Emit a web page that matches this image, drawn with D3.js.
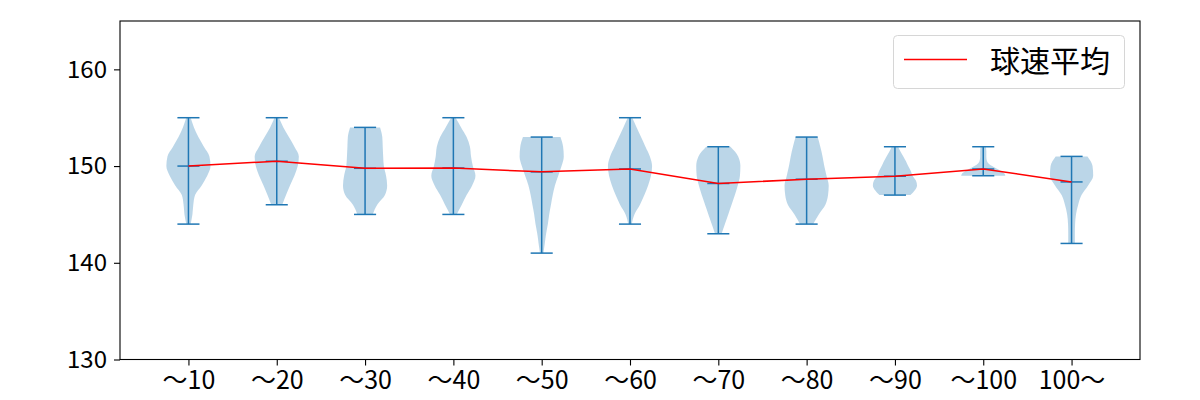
<!DOCTYPE html>
<html><head><meta charset="utf-8">
<script src="https://cdn.jsdelivr.net/npm/d3@7"></script>
<style>body{margin:0;background:#fff}</style>
</head><body>
<svg id="chart" width="1200" height="400"></svg>
<script>
// ---- data ----
const categories = ["～10","～20","～30","～40","～50","～60","～70","～80","～90","～100","100～"];
const means = [150.0, 150.5, 149.77, 149.8, 149.4, 149.7, 148.2, 148.64, 148.95, 149.7, 148.36];
const mins  = [144, 146, 145, 145, 141, 144, 143, 144, 147, 149, 142];
const maxs  = [155, 155, 154, 155, 153, 155, 152, 153, 152, 152, 151];
const yTicks = [130, 140, 150, 160];
const legendLabel = "球速平均";
// density profiles: speeds and relative half-widths (1 = widest point)
const profileSpeeds = [
  [144,145,146,147,148,149,150,151,152,153,154,155],
  [146,147,148,149,150,151,152,153,154,155],
  [145,146,147,148,149,150,151,152,153,154],
  [145,146,147,148,149,150,151,152,153,154,155],
  [141,142,143,144,145,146,147,148,149,150,151,152,153],
  [144,145,146,147,148,149,150,151,152,153,154,155],
  [143,144,145,146,147,148,149,150,151,152],
  [144,145,146,147,148,149,150,151,152,153],
  [147,147.5,148,148.5,149,149.5,150,150.5,151,151.5,152],
  [149,149.25,149.5,149.75,150,150.25,150.5,151,151.5,152],
  [142,143,144,145,146,147,148,149,150,151]
];
const profileWidths = [
  [0.1,0.18,0.22,0.3,0.6,0.85,1.0,0.95,0.7,0.45,0.25,0.1],
  [0.25,0.42,0.6,0.8,0.95,1.0,0.8,0.55,0.3,0.1],
  [0.35,0.55,0.9,1.0,0.95,0.85,0.82,0.8,0.78,0.68],
  [0.15,0.38,0.6,0.85,1.0,0.88,0.8,0.75,0.6,0.35,0.1],
  [0.08,0.14,0.2,0.28,0.34,0.42,0.5,0.6,0.75,0.9,1.0,0.97,0.85],
  [0.08,0.2,0.45,0.65,0.82,0.95,1.0,0.9,0.7,0.5,0.3,0.1],
  [0.15,0.3,0.45,0.6,0.75,0.88,0.98,1.0,0.9,0.55],
  [0.3,0.55,0.85,0.97,1.0,0.9,0.8,0.72,0.62,0.5],
  [0.7,0.9,1.0,0.95,0.8,0.72,0.6,0.5,0.38,0.25,0.15],
  [1.0,0.95,0.8,0.6,0.4,0.25,0.17,0.14,0.14,0.12],
  [0.15,0.15,0.16,0.2,0.3,0.45,0.75,0.98,0.95,0.72]
];

// ---- layout ----
const L = 120, R = 1140, T = 21, B = 359.5;
const blue = "#1f77b4";
const svg = d3.select("#chart");
const positions = categories.map((c, i) => i + 1);
const x = d3.scaleLinear().domain([0.225, 11.775]).range([L, R]);
const y = d3.scaleLinear().domain([130, 165]).range([B, T]);
const halfW = x(0.25) - x(0);
const capW = x(0.125) - x(0);
const font = "'Noto Sans CJK JP', 'Noto Sans', sans-serif";

// violins
const g = svg.append("g");
categories.forEach((c, i) => {
  const cx = x(positions[i]);
  const pts = profileSpeeds[i].map((s, k) => [s, profileWidths[i][k]]);
  const area = d3.area()
    .y(d => y(d[0]))
    .x0(d => cx - halfW * d[1])
    .x1(d => cx + halfW * d[1])
    .curve(d3.curveMonotoneY);
  g.append("path").attr("d", area(pts))
    .attr("fill", blue).attr("fill-opacity", 0.3).attr("stroke", "none");
  g.append("line").attr("x1", cx).attr("x2", cx)
    .attr("y1", y(mins[i])).attr("y2", y(maxs[i]))
    .attr("stroke", blue).attr("stroke-width", 1.5);
  [mins[i], maxs[i], means[i]].forEach(v => {
    g.append("line").attr("x1", cx - capW).attr("x2", cx + capW)
      .attr("y1", y(v)).attr("y2", y(v))
      .attr("stroke", blue).attr("stroke-width", 1.5);
  });
});

// mean line
svg.append("path")
  .datum(means)
  .attr("d", d3.line().x((d, i) => x(positions[i])).y(d => y(d)))
  .attr("fill", "none").attr("stroke", "red").attr("stroke-width", 1.5);

// axes
const yAxis = svg.append("g").attr("transform", `translate(${L},0)`)
  .call(d3.axisLeft(y).tickValues(yTicks).tickSize(6).tickPadding(7).tickFormat(d3.format("d")));
const xAxis = svg.append("g").attr("transform", `translate(0,${B})`)
  .call(d3.axisBottom(x).tickValues(positions).tickSize(6).tickPadding(6).tickFormat((d, i) => categories[i]));
[yAxis, xAxis].forEach(a => {
  a.select(".domain").remove();
  a.selectAll(".tick line").attr("stroke", "#000").attr("stroke-width", 1.1);
  a.selectAll("text").attr("font-family", font).attr("fill", "#000");
});
yAxis.selectAll("text").attr("font-size", 24);
xAxis.selectAll("text").attr("font-size", 25);

// frame
svg.append("rect").attr("x", L).attr("y", T).attr("width", R - L).attr("height", B - T)
  .attr("fill", "none").attr("stroke", "#000").attr("stroke-width", 1.1);

// legend
const lg = svg.append("g");
lg.append("rect").attr("x", 893.5).attr("y", 35.5).attr("width", 231).attr("height", 53).attr("rx", 4)
  .attr("fill", "#fff").attr("fill-opacity", 0.8).attr("stroke", "#d6d6d6").attr("stroke-width", 1);
lg.append("line").attr("x1", 904).attr("x2", 967).attr("y1", 59.5).attr("y2", 59.5)
  .attr("stroke", "red").attr("stroke-width", 1.5);
lg.append("text").attr("x", 990).attr("y", 59).attr("dominant-baseline", "central")
  .attr("font-family", font).attr("font-size", 30).attr("fill", "#000").text(legendLabel);
</script>
</body></html>
